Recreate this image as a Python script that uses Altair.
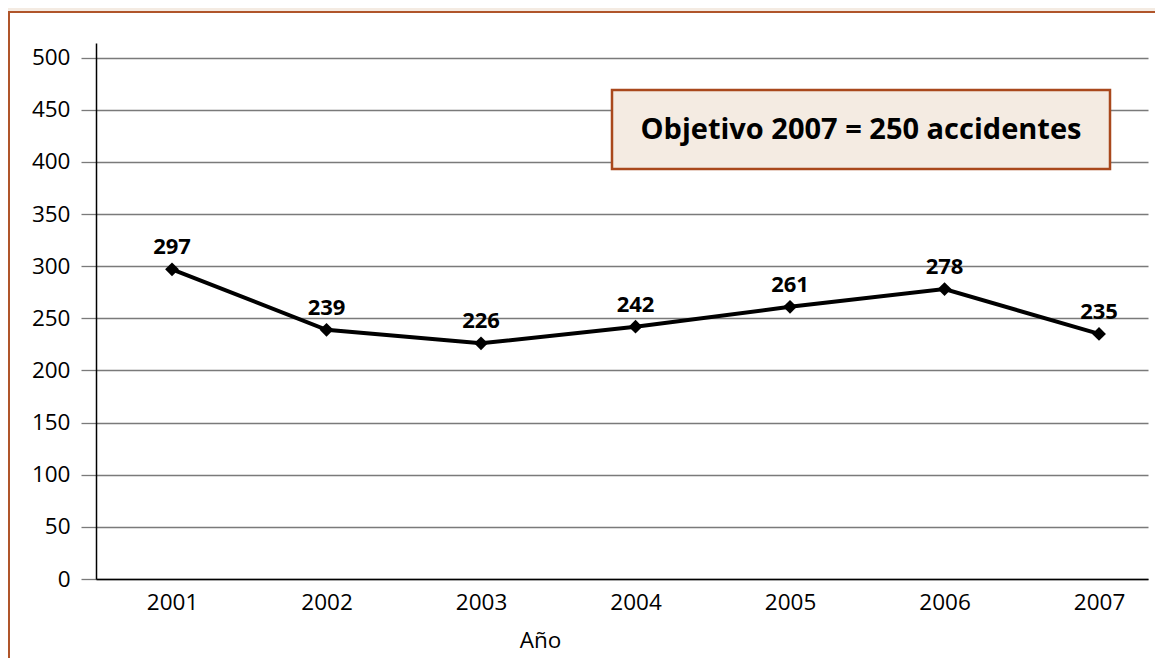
import altair as alt
import pandas as pd

years = [2001, 2002, 2003, 2004, 2005, 2006, 2007]
accidents = [297, 239, 226, 242, 261, 278, 235]
y_ticks = [0, 50, 100, 150, 200, 250, 300, 350, 400, 450, 500]
note = "Objetivo 2007 = 250 accidentes"
x_title = "Año"

df = pd.DataFrame({"year": years, "value": accidents})
one = pd.DataFrame({"a": [0]})

FONT = "Open Sans"
BEIGE = "#f4ebe2"
BROWN = "#a9481c"
FRAME = "#b0552a"
W, H = 1052, 536

x_enc = alt.X(
    "year:Q",
    scale=alt.Scale(domain=[2000.508, 2007.317], nice=False, zero=False),
    axis=alt.Axis(
        values=years, format="d", ticks=False, grid=False,
        domainColor="#000000", domainWidth=1.5,
        labelFont=FONT, labelFontSize=22.5, labelColor="#000000", labelPadding=12,
        title=x_title, titleFont=FONT, titleFontSize=22.5, titleFontWeight="normal",
        titleColor="#000000", titleX=444, titleY=61, titleBaseline="middle",
        titleAlign="center", zindex=1,
    ),
)
y_enc = alt.Y(
    "value:Q",
    scale=alt.Scale(domain=[0, 514], nice=False),
    axis=alt.Axis(
        values=y_ticks, title=None, grid=True, gridColor="#7a7a7a", gridWidth=1.3,
        tickColor="#7a7a7a", tickSize=15, tickWidth=1.3,
        domainColor="#000000", domainWidth=1.5,
        labelFont=FONT, labelFontSize=22.5, labelColor="#000000", labelPadding=11,
    ),
)

frame_strip = alt.Chart(one).mark_rect(fill=BEIGE).encode(
    x=alt.value(-90), x2=alt.value(W + 300), y=alt.value(-40), y2=alt.value(-31)
)
frame_top = alt.Chart(one).mark_rule(color=FRAME, strokeWidth=2).encode(
    x=alt.value(-88), x2=alt.value(W + 300), y=alt.value(-31)
)
frame_left = alt.Chart(one).mark_rule(color=FRAME, strokeWidth=2).encode(
    x=alt.value(-87), y=alt.value(-31), y2=alt.value(H + 300)
)

line = alt.Chart(df).mark_line(color="#000000", strokeWidth=4).encode(x=x_enc, y=y_enc)
pts = alt.Chart(df).mark_point(shape="diamond", filled=True, color="#000000", size=190, opacity=1).encode(
    x="year:Q", y="value:Q"
)
labels = alt.Chart(df).mark_text(
    font=FONT, fontSize=22, fontWeight="bold", color="#000000", dy=-22, baseline="middle"
).encode(x="year:Q", y="value:Q", text="value:Q")

box = alt.Chart(one).mark_rect(fill=BEIGE, stroke=BROWN, strokeWidth=2.5).encode(
    x=alt.value(516), x2=alt.value(1014), y=alt.value(47), y2=alt.value(126)
)
box_text = alt.Chart(one).mark_text(
    text=note, font=FONT, fontSize=29, fontWeight="bold", color="#000000", align="center", baseline="middle"
).encode(x=alt.value(765), y=alt.value(87))

chart = alt.layer(frame_strip, frame_top, frame_left, line, pts, labels, box, box_text).properties(
    width=W, height=H,
    autosize=alt.AutoSizeParams(type="none"),
    padding={"left": 88, "top": 35, "right": 7, "bottom": 79},
    background="white",
).configure_view(stroke=None)

chart.save("out.html", embed_options={"renderer": "svg", "actions": False})
